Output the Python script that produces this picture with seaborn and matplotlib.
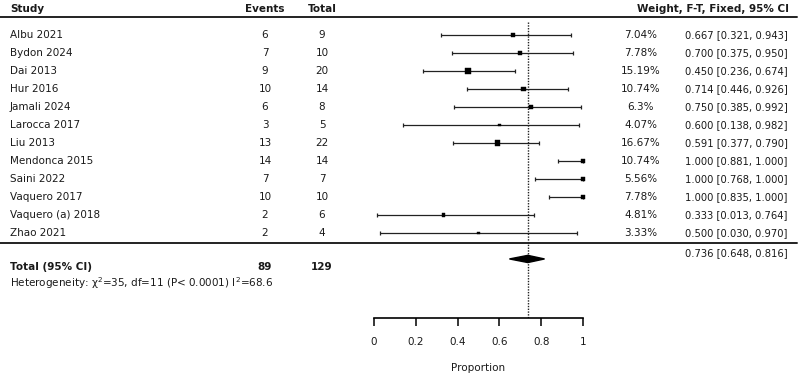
import numpy as np
import pandas as pd
import matplotlib
matplotlib.use("Agg")
import matplotlib.pyplot as plt
import matplotlib.transforms as mtransforms
import seaborn as sns

# data
studies = ["Albu 2021", "Bydon 2024", "Dai 2013", "Hur 2016", "Jamali 2024",
           "Larocca 2017", "Liu 2013", "Mendonca 2015", "Saini 2022",
           "Vaquero 2017", "Vaquero (a) 2018", "Zhao 2021"]
events = [6, 7, 9, 10, 6, 3, 13, 14, 7, 10, 2, 2]
totals = [9, 10, 20, 14, 8, 5, 22, 14, 7, 10, 6, 4]
weights = [7.04, 7.78, 15.19, 10.74, 6.3, 4.07, 16.67, 10.74, 5.56, 7.78, 4.81, 3.33]
weight_labels = ["7.04%", "7.78%", "15.19%", "10.74%", "6.3%", "4.07%",
                 "16.67%", "10.74%", "5.56%", "7.78%", "4.81%", "3.33%"]
est = [0.667, 0.700, 0.450, 0.714, 0.750, 0.600, 0.591, 1.000, 1.000, 1.000, 0.333, 0.500]
lo = [0.321, 0.375, 0.236, 0.446, 0.385, 0.138, 0.377, 0.881, 0.768, 0.835, 0.013, 0.030]
hi = [0.943, 0.950, 0.674, 0.926, 0.992, 0.982, 0.790, 1.000, 1.000, 1.000, 0.764, 0.970]
pooled = 0.736
pooled_lo = 0.648
pooled_hi = 0.816
total_events = 89
total_n = 129
xticks = [0, 0.2, 0.4, 0.6, 0.8, 1]

df = pd.DataFrame({"study": studies, "events": events, "total": totals,
                   "weight": weights, "est": est, "lo": lo, "hi": hi})
df["row"] = np.arange(len(df))

sns.set_style("white")
plt.rcParams["font.family"] = ["DejaVu Sans"]

W, H = 799, 374
fig = plt.figure(figsize=(W / 100, H / 100), dpi=100)
# forest panel: x 0..1 maps to px 374..583, rows 18 px apart starting at y=35
ax = fig.add_axes([374 / W, (H - 318) / H, 209 / W, 318 / H])
ax.set_xlim(0, 1)
ax.set_ylim(15.72, -1.944)

txt = "#1a1a1a"
fs = 7.5

# CI lines
ax.errorbar(df["est"], df["row"], xerr=[df["est"] - df["lo"], df["hi"] - df["est"]],
            fmt="none", ecolor="#222222", elinewidth=0.9, capsize=1.6, capthick=0.9,
            clip_on=False)
# point estimates sized by weight
sns.scatterplot(data=df, x="est", y="row", size="weight", sizes=(0, 18),
                size_norm=(0, max(weights)), marker="s", color="black",
                edgecolor="black", linewidth=0.3, legend=False, ax=ax, clip_on=False,
                zorder=3)

# pooled diamond
ydia = 12.44
ax.fill([pooled_lo, pooled, pooled_hi, pooled], [ydia, ydia - 0.2, ydia, ydia + 0.2],
        color="black", zorder=3)
ax.vlines(pooled, -0.72, 15.72, colors="#222222", linestyles=(0, (1, 1)),
          linewidth=1, zorder=2)

# axis styling
for s in ["top", "left", "right"]:
    ax.spines[s].set_visible(False)
ax.spines["bottom"].set_linewidth(1.2)
ax.spines["bottom"].set_color("black")
ax.set_yticks([])
ax.set_xticks(xticks)
ax.set_xticklabels(["%g" % t for t in xticks], fontsize=fs, color=txt)
ax.tick_params(axis="x", bottom=True, direction="out", length=6, width=1.1, pad=8,
               color="black")
ax.set_xlabel("Proportion", fontsize=fs, color=txt, labelpad=11)
ax.set_ylabel("")

# text columns: figure x, data y
tr = mtransforms.blended_transform_factory(fig.transFigure, ax.transData)
def px(x):
    return x / W

def put(x, y, s, ha="left", bold=False, size=fs):
    ax.text(px(x), y, s, transform=tr, ha=ha, va="center", fontsize=size, color=txt,
            fontweight="bold" if bold else "normal", clip_on=False)

ytop = -1.444
put(10, ytop, "Study", bold=True)
put(265, ytop, "Events", ha="center", bold=True)
put(322, ytop, "Total", ha="center", bold=True)
put(789, ytop, "Weight, F-T, Fixed, 95% CI", ha="right", bold=True)

for i in range(len(studies)):
    put(10, i, studies[i])
    put(265, i, str(events[i]), ha="center")
    put(322, i, str(totals[i]), ha="center")
    put(641, i, weight_labels[i], ha="center")
    put(685, i, "%.3f [%.3f, %.3f]" % (est[i], lo[i], hi[i]), size=7.2)

put(10, 12.89, "Total (95% CI)", bold=True)
put(265, 12.89, str(total_events), ha="center", bold=True)
put(322, 12.89, str(total_n), ha="center", bold=True)
put(685, 12.1, "%.3f [%.3f, %.3f]" % (pooled, pooled_lo, pooled_hi), size=7.2)
put(10, 13.78, "Heterogeneity: χ$^2$=35, df=11 (P< 0.0001) I$^2$=68.6")

# separator lines across the table
for yl in [-1.0, 11.556]:
    ax.plot([px(0), px(797)], [yl, yl], transform=tr, color="#222222",
            linewidth=1.4, clip_on=False)

fig.savefig("out.png", dpi=100)
